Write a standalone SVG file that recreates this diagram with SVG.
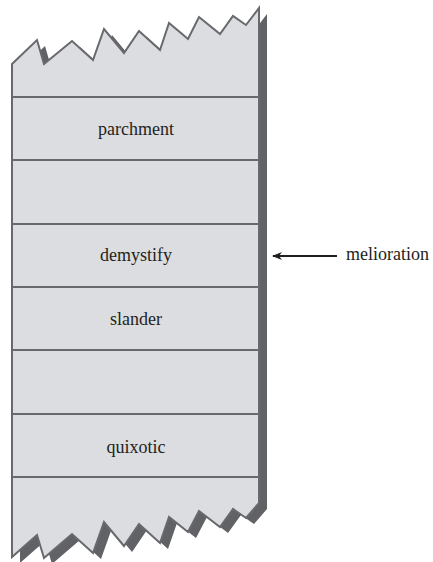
<svg xmlns="http://www.w3.org/2000/svg" width="433" height="562" viewBox="0 0 433 562">
  <style>
    .shadow { fill: #616266; stroke: none; }
    .page { fill: #dcdde0; stroke: #68696c; stroke-width: 2; stroke-linejoin: miter; }
    .sep { stroke: #68696c; stroke-width: 2; fill: none; }
    .lbl { font-size: 18px; fill: #231f20; }
    .mid { text-anchor: middle; }
    .arrow { stroke: #231f20; stroke-width: 2; fill: none; }
  </style>
  <defs>
    <marker id="ah" markerWidth="10" markerHeight="8" refX="9" refY="4" orient="auto" markerUnits="userSpaceOnUse">
      <path d="M0,0 L10,4 L0,8 L3,4 Z" fill="#231f20"/>
    </marker>
    <path id="outline" d="M12,64 L37,40 L44,64 L72,41 L93,60 L104,29 L124,53 L139,31 L160,50 L169,23 L188,39 L199,17 L220,34 L233,16 L246,25 L259,8 L259,503 L246,518 L233,509 L220,527 L199,511 L188,532 L169,517 L160,543 L139,524 L124,546 L104,522 L93,553 L72,534 L44,558 L37,535 L12,557 Z"/>
  </defs>
  <g id="stack">
    <use href="#outline" class="shadow" transform="translate(8,6)"/>
    <use href="#outline" class="page"/>
    <line class="sep" x1="12" y1="97" x2="259" y2="97"/>
    <line class="sep" x1="12" y1="160" x2="259" y2="160"/>
    <line class="sep" x1="12" y1="224" x2="259" y2="224"/>
    <line class="sep" x1="12" y1="287" x2="259" y2="287"/>
    <line class="sep" x1="12" y1="350" x2="259" y2="350"/>
    <line class="sep" x1="12" y1="414" x2="259" y2="414"/>
    <line class="sep" x1="12" y1="477" x2="259" y2="477"/>
  </g>
  <g font-family="'Liberation Serif', 'Times New Roman', Times, serif">
    <g id="cell-parchment"><text class="lbl mid" x="136" y="135">parchment</text></g>
    <g id="cell-demystify"><text class="lbl mid" x="136" y="261">demystify</text></g>
    <g id="cell-slander"><text class="lbl mid" x="136" y="325">slander</text></g>
    <g id="cell-quixotic"><text class="lbl mid" x="136" y="453">quixotic</text></g>
    <g id="label-melioration"><text class="lbl" x="346" y="260">melioration</text></g>
  </g>
  <g id="connectors">
    <line class="arrow" x1="337" y1="256" x2="273" y2="256" marker-end="url(#ah)"/>
  </g>
</svg>
